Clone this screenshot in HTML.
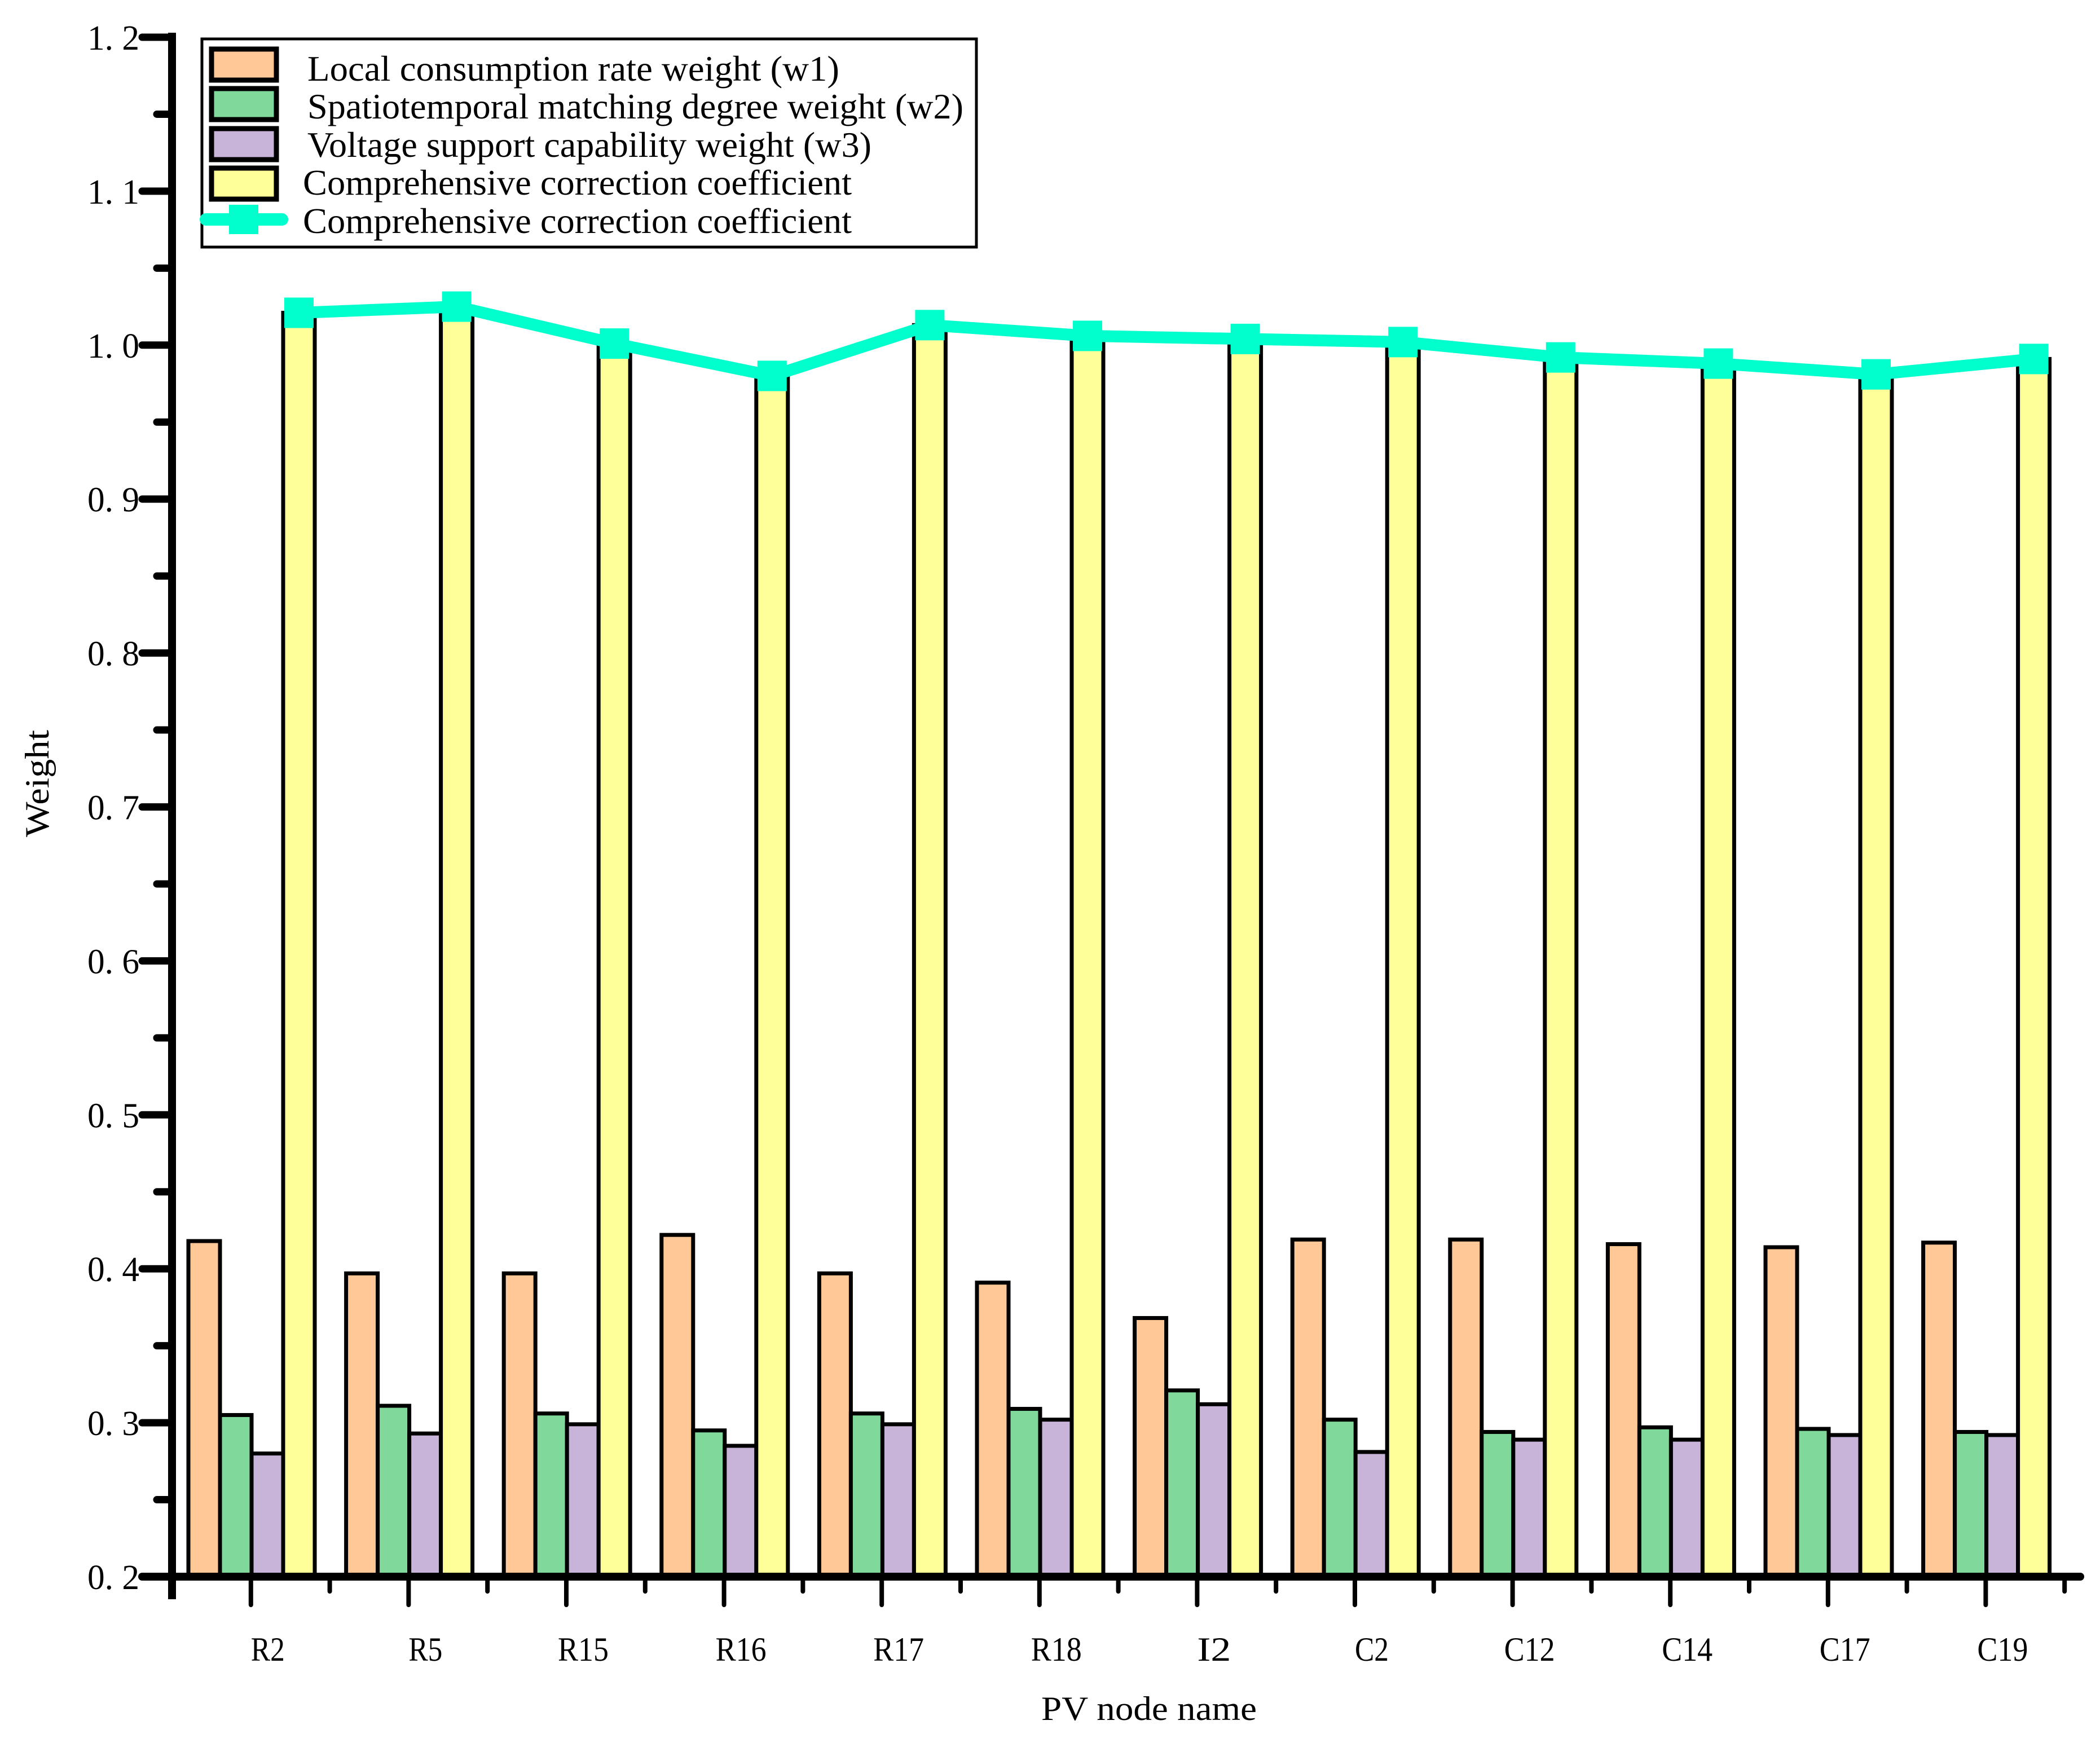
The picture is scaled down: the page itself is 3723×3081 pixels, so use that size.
<!DOCTYPE html>
<html><head><meta charset="utf-8"><style>
html,body{margin:0;padding:0;background:#fff;}
svg{display:block;font-family:"Liberation Serif",serif;}
</style></head><body>
<svg id="chart" width="3723" height="3081" viewBox="0 0 3723 3081" xmlns="http://www.w3.org/2000/svg">
<g id="bars"></g>
<g id="line"></g>
<g id="axes"></g>
<g id="legend">
  <rect x="358" y="69" width="1373" height="369" fill="#fff" stroke="#000" stroke-width="5"/>
  <rect x="375" y="87" width="115" height="55" fill="#FFC896" stroke="#000" stroke-width="9"/>
  <rect x="375" y="157" width="115" height="55" fill="#80D99B" stroke="#000" stroke-width="9"/>
  <rect x="375" y="228" width="115" height="55" fill="#C8B4D8" stroke="#000" stroke-width="9"/>
  <rect x="375" y="298" width="115" height="55" fill="#FFFF99" stroke="#000" stroke-width="9"/>
  <line x1="365" y1="389" x2="500" y2="389" stroke="#00FFCC" stroke-width="22" stroke-linecap="round"/>
  <rect x="406" y="363" width="52" height="52" fill="#00FFCC"/>
  <text x="545" y="143" font-size="64" textLength="943" lengthAdjust="spacingAndGlyphs">Local consumption rate weight (w1)</text>
  <text x="545" y="210" font-size="64" textLength="1163" lengthAdjust="spacingAndGlyphs">Spatiotemporal matching degree weight (w2)</text>
  <text x="545" y="278" font-size="64" textLength="1000" lengthAdjust="spacingAndGlyphs">Voltage support capability weight (w3)</text>
  <text x="537" y="345" font-size="64" textLength="973" lengthAdjust="spacingAndGlyphs">Comprehensive correction coefficient</text>
  <text x="537" y="413" font-size="64" textLength="973" lengthAdjust="spacingAndGlyphs">Comprehensive correction coefficient</text>
</g>
<text x="2037" y="3049" font-size="60" text-anchor="middle" textLength="382" lengthAdjust="spacingAndGlyphs">PV node name</text>
<text transform="translate(86,1389) rotate(-90)" font-size="60" text-anchor="middle" textLength="190" lengthAdjust="spacingAndGlyphs">Weight</text>
</svg>
<script>
const categories = ["R2","R5","R15","R16","R17","R18","I2","C2","C12","C14","C17","C19"];
const w1 = [0.418,0.397,0.397,0.422,0.397,0.391,0.368,0.419,0.419,0.416,0.414,0.417];
const w2 = [0.305,0.311,0.306,0.295,0.306,0.309,0.321,0.302,0.294,0.297,0.296,0.294];
const w3 = [0.280,0.293,0.299,0.285,0.299,0.302,0.312,0.281,0.289,0.289,0.292,0.292];
const coef = [1.021,1.025,1.001,0.980,1.013,1.006,1.004,1.002,0.992,0.988,0.981,0.991];
const yTicks = ["0. 2","0. 3","0. 4","0. 5","0. 6","0. 7","0. 8","0. 9","1. 0","1. 1","1. 2"];

const NS = "http://www.w3.org/2000/svg";
const X0 = 305, GW = 279.6, Y0 = 2795, YTOP = 66, VMIN = 0.2, VMAX = 1.2;
function yScale(v){ return Y0 - (v - VMIN) / (VMAX - VMIN) * (Y0 - YTOP); }
function groupX(i){ return X0 + i * GW; }
function mk(tag, attrs, parent){ const e = document.createElementNS(NS, tag); for (const k in attrs) e.setAttribute(k, attrs[k]); parent.appendChild(e); return e; }

const bars = document.getElementById('bars');
const series = [w1, w2, w3, coef];
const seriesNames = ['w1','w2','w3','coef'];
const colors = ['#FFC896','#80D99B','#C8B4D8','#FFFF99'];
const BW = 56, BOFF = 29;
categories.forEach((c, i) => {
  series.forEach((s, j) => {
    const x = groupX(i) + BOFF + j * BW;
    const y = yScale(s[i]);
    const r = mk('rect', {x: x, y: y, width: BW, height: Y0 - y, fill: colors[j], stroke: '#000', 'stroke-width': 7}, bars);
    
    
  });
});

const line = document.getElementById('line');
const pts = coef.map((v, i) => (groupX(i) + BOFF + 3.5 * BW) + ',' + yScale(v)).join(' ');
const pl = mk('polyline', {points: pts, fill: 'none', stroke: '#00FFCC', 'stroke-width': 21, 'stroke-linejoin': 'round'}, line);


coef.forEach((v, i) => {
  const cx = groupX(i) + BOFF + 3.5 * BW;
  const m = mk('rect', {x: cx - 26, y: yScale(v) - 27, width: 52, height: 54, fill: '#00FFCC'}, line);
  
  
});

const axes = document.getElementById('axes');
const ya = mk('line', {x1: X0, y1: YTOP - 8, x2: X0, y2: Y0 + 40, stroke: '#000', 'stroke-width': 14}, axes);


const xa = mk('line', {x1: 252, y1: Y0, x2: 3688, y2: Y0, stroke: '#000', 'stroke-width': 14, 'stroke-linecap': 'round'}, axes);


yTicks.forEach((t, k) => {
  const v = VMIN + k * 0.1;
  const y = yScale(v);
  const tk = mk('line', {x1: 252, y1: y, x2: X0, y2: y, stroke: '#000', 'stroke-width': 13, 'stroke-linecap': 'round'}, axes);
  
  
  const lb = mk('text', {x: 247, y: y + 22, 'font-size': 62, 'text-anchor': 'end', textLength: 92, lengthAdjust: 'spacingAndGlyphs'}, axes);
  lb.textContent = t;
  
  
  if (k < yTicks.length - 1) {
    const ym = yScale(v + 0.05);
    const mt = mk('line', {x1: 278, y1: ym, x2: X0, y2: ym, stroke: '#000', 'stroke-width': 13, 'stroke-linecap': 'round'}, axes);
    
    
  }
});
for (let i = 0; i <= categories.length; i++) {
  const mt = mk('line', {x1: groupX(i), y1: Y0, x2: groupX(i), y2: Y0 + 26, stroke: '#000', 'stroke-width': 8, 'stroke-linecap': 'round'}, axes);
  
  
}
categories.forEach((c, i) => {
  const cx = groupX(i) + GW / 2;
  const tk = mk('line', {x1: cx, y1: Y0, x2: cx, y2: Y0 + 50, stroke: '#000', 'stroke-width': 8, 'stroke-linecap': 'round'}, axes);
  
  
  const lb = mk('text', {x: cx + 30, y: 2944, 'font-size': 60, 'text-anchor': 'middle', textLength: c.length * 30, lengthAdjust: 'spacingAndGlyphs'}, axes);
  lb.textContent = c;
  
  
});
</script>
</body></html>
